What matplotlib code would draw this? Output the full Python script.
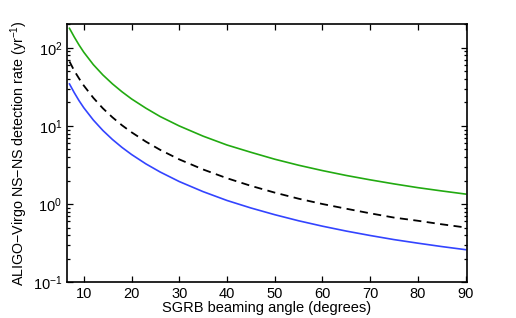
import numpy as np
import matplotlib
matplotlib.use("Agg")
import matplotlib.pyplot as plt
from matplotlib.ticker import LogLocator, NullFormatter, FixedLocator

plt.rcParams["font.family"] = ["Liberation Sans", "DejaVu Sans"]
plt.rcParams["mathtext.fontset"] = "custom"
plt.rcParams["mathtext.rm"] = "Liberation Sans"
plt.rcParams["mathtext.it"] = "Liberation Sans:italic"
plt.rcParams["mathtext.bf"] = "Liberation Sans:bold"

# beaming angle (degrees) and rates
angle = [7, 8, 9, 10, 12, 14, 16, 18, 20, 23, 26, 30, 35, 40, 45,
         50, 55, 60, 65, 70, 75, 80, 85, 90]
rate_high = [178, 138, 109, 88, 61, 45, 34.6, 27.4, 22.2, 16.9, 13.2, 10.0,
             7.4, 5.7, 4.6, 3.75, 3.14, 2.68, 2.32, 2.04, 1.81, 1.62, 1.47, 1.34]
rate_mid = [67, 51, 40.6, 32.9, 22.9, 16.8, 12.9, 10.2, 8.3, 6.3, 4.94, 3.73,
            2.77, 2.14, 1.71, 1.40, 1.17, 1.0, 0.87, 0.76, 0.67, 0.61, 0.55, 0.50]
rate_low = [34.5, 26.7, 21.1, 17.1, 11.9, 8.75, 6.71, 5.31, 4.31, 3.27, 2.57,
            1.94, 1.44, 1.11, 0.89, 0.73, 0.61, 0.52, 0.45, 0.395, 0.35, 0.315,
            0.285, 0.26]

xticks = [10, 20, 30, 40, 50, 60, 70, 80, 90]

fig = plt.figure(figsize=(5.16, 3.18), dpi=100)
ax = fig.add_axes([0.130, 0.113, 0.775, 0.813])

ax.plot(angle, rate_high, color="#22aa11", lw=1.2)
ax.plot(angle, rate_mid, color="black", lw=1.3, dashes=(4.5, 3))
ax.plot(angle, rate_low, color="#3344ff", lw=1.2)

ax.set_yscale("log")
ax.set_xlim(6.5, 90.3)
ax.set_ylim(0.1, 205)
ax.xaxis.set_major_locator(FixedLocator(xticks))
ax.yaxis.set_major_locator(LogLocator(base=10, numticks=10))
ax.yaxis.set_minor_locator(LogLocator(base=10, subs=np.arange(2, 10), numticks=10))
ax.yaxis.set_minor_formatter(NullFormatter())

ax.tick_params(which="both", direction="in", top=True, right=True,
               labelsize=10.5, width=0.9)
ax.tick_params(which="major", length=4)
ax.tick_params(which="minor", length=2)
for s in ax.spines.values():
    s.set_linewidth(1.2)

ax.set_xlabel("SGRB beaming angle (degrees)", fontsize=10.5, labelpad=0)
ax.set_ylabel("ALIGO\u2212Virgo NS\u2212NS detection rate (yr$^{-1}$)",
              fontsize=10.3, labelpad=2)

fig.savefig("out.png", dpi=100)
